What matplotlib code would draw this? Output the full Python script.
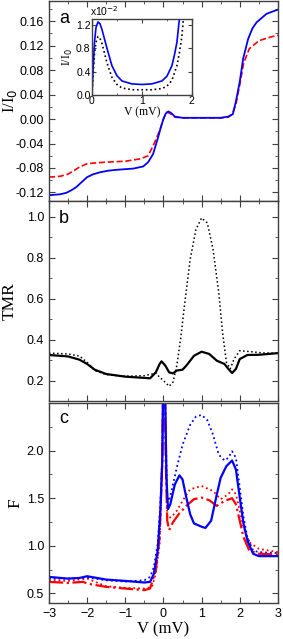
import matplotlib
matplotlib.use("Agg")
import matplotlib.pyplot as plt
from matplotlib.ticker import MultipleLocator

# Paneel a: I/I0
va_blue = [-3, -2.7, -2.54, -2.4, -2.28, -2.14, -2.0, -1.85, -1.66, -1.45, -1.23, -0.79, -0.53, -0.4, -0.27,
           -0.14, -0.07, 0.0, 0.06, 0.13, 0.2, 0.3, 0.5, 1.0, 1.5, 1.7, 1.82, 1.9, 2.0, 2.09, 2.22, 2.33, 2.44,
           2.7, 3.0]
ia_blue = [-0.1245, -0.123, -0.1205, -0.116, -0.111, -0.103, -0.095, -0.0905, -0.087, -0.0845, -0.083, -0.081,
           -0.0775, -0.0705, -0.057, -0.030, -0.014, 0.0, 0.009, 0.0125, 0.010, 0.004, 0.002, 0.002, 0.002,
           0.004, 0.008, 0.029, 0.061, 0.099, 0.131, 0.148, 0.158, 0.172, 0.179]
va_red = [-3, -2.7, -2.5, -2.35, -2.2, -2.0, -1.75, -1.5, -1.0, -0.6, -0.4, -0.25, -0.1, 0.0, 0.06, 0.1, 0.2,
          0.3, 0.5, 1.0, 1.5, 1.7, 1.8, 1.9, 2.0, 2.1, 2.25, 2.5, 2.8, 3.0]
ia_red = [-0.095, -0.0935, -0.090, -0.0845, -0.0785, -0.073, -0.0715, -0.0705, -0.069, -0.065, -0.060, -0.041,
          -0.019, 0.0, 0.009, 0.0115, 0.008, 0.003, 0.002, 0.002, 0.002, 0.003, 0.008, 0.024, 0.056, 0.091,
          0.115, 0.128, 0.134, 0.137]

# Inzet (eenheden 1e-2)
vin_blue = [0, 0.02, 0.05, 0.08, 0.12, 0.16, 0.2, 0.3, 0.4, 0.5, 0.6, 0.8, 1.0, 1.2, 1.4, 1.5, 1.6, 1.65, 1.7, 1.75]
iin_blue = [0, 0.4, 0.9, 1.15, 1.25, 1.22, 1.12, 0.8, 0.5, 0.33, 0.24, 0.19, 0.18, 0.19, 0.24, 0.32, 0.5, 0.68,
            0.9, 1.3]
vin_black = [0, 0.02, 0.05, 0.08, 0.12, 0.16, 0.2, 0.3, 0.4, 0.5, 0.6, 0.8, 1.0, 1.2, 1.4, 1.5, 1.6, 1.7, 1.75,
             1.8, 1.83]
iin_black = [0, 0.3, 0.7, 0.9, 1.0, 0.97, 0.88, 0.55, 0.3, 0.18, 0.12, 0.09, 0.09, 0.09, 0.11, 0.15, 0.25, 0.5,
             0.72, 1.0, 1.3]

# Paneel b: TMR
vb_solid = [-3, -2.5, -2.2, -2.0, -1.8, -1.5, -1.0, -0.5, -0.35, -0.2, -0.1, -0.05, 0.05, 0.15, 0.25, 0.35, 0.5,
            0.6, 0.8, 1.0, 1.2, 1.4, 1.6, 1.7, 1.8, 1.9, 2.0, 2.2, 2.5, 3.0]
tmr_solid = [0.325, 0.318, 0.302, 0.281, 0.253, 0.232, 0.219, 0.213, 0.211, 0.24, 0.281, 0.294, 0.273, 0.24,
             0.235, 0.249, 0.253, 0.273, 0.321, 0.341, 0.33, 0.297, 0.281, 0.257, 0.237, 0.257, 0.305, 0.325,
             0.326, 0.334]
vb_dot = [-3, -2.5, -2.2, -2.0, -1.8, -1.5, -1.0, -0.5, -0.3, -0.2, -0.1, 0.0, 0.15, 0.25, 0.35, 0.45, 0.55, 0.7,
          0.85, 1.0, 1.15, 1.3, 1.45, 1.55, 1.65, 1.75, 1.85, 2.0, 2.3, 2.6, 3.0]
tmr_dot = [0.334, 0.33, 0.32, 0.289, 0.249, 0.229, 0.221, 0.224, 0.232, 0.237, 0.216, 0.2, 0.172, 0.192, 0.273,
           0.403, 0.565, 0.792, 0.938, 0.995, 0.971, 0.841, 0.63, 0.435, 0.289, 0.257, 0.305, 0.346, 0.341,
           0.335, 0.334]

# Paneel c: Fano factor
vc_bs = [-3, -2.5, -2.2, -2.0, -1.8, -1.5, -1.0, -0.5, -0.35, -0.25, -0.15, -0.08, -0.03, 0.0, 0.03, 0.06, 0.08,
         0.12, 0.18, 0.3, 0.42, 0.5, 0.6, 0.7, 0.8, 1.0, 1.1, 1.25, 1.4, 1.5, 1.65, 1.8, 1.9, 2.0, 2.1, 2.2,
         2.35, 2.5, 3.0]
f_bs = [0.674, 0.656, 0.663, 0.681, 0.667, 0.646, 0.632, 0.615, 0.622, 0.708, 0.951, 1.368, 1.89, 3.0, 3.0, 2.2,
        1.715, 1.385, 1.437, 1.646, 1.74, 1.698, 1.507, 1.333, 1.236, 1.201, 1.188, 1.264, 1.542, 1.715, 1.837,
        1.896, 1.802, 1.507, 1.229, 1.056, 0.917, 0.892, 0.892]
vc_bd = [-3, -2.5, -2.0, -1.5, -1.0, -0.5, -0.35, -0.25, -0.15, -0.08, -0.03, 0.0, 0.03, 0.06, 0.1, 0.15, 0.25,
         0.35, 0.5, 0.7, 0.85, 1.0, 1.15, 1.3, 1.45, 1.6, 1.7, 1.8, 1.9, 2.0, 2.1, 2.2, 2.35, 2.5, 3.0]
f_bd = [0.656, 0.656, 0.667, 0.639, 0.625, 0.639, 0.674, 0.778, 1.021, 1.437, 1.95, 3.0, 3.0, 2.2, 1.507, 1.472,
        1.646, 1.82, 2.06, 2.27, 2.357, 2.375, 2.32, 2.167, 1.958, 1.896, 1.924, 1.993, 1.924, 1.611, 1.299,
        1.09, 0.951, 0.934, 0.924]
vc_rd = [-3, -2.5, -2.0, -1.5, -1.0, -0.5, -0.3, -0.2, -0.1, -0.03, 0.0, 0.03, 0.06, 0.1, 0.2, 0.35, 0.5, 0.7,
         1.0, 1.3, 1.5, 1.7, 1.8, 1.9, 2.0, 2.1, 2.25, 2.5, 3.0]
f_rd = [0.639, 0.632, 0.656, 0.576, 0.559, 0.552, 0.569, 0.708, 1.021, 1.9, 3.0, 3.0, 2.0, 1.299, 1.299, 1.368,
        1.472, 1.594, 1.629, 1.576, 1.49, 1.542, 1.594, 1.542, 1.368, 1.194, 1.038, 0.969, 0.934]
vc_rdd = [-3, -2.5, -2.1, -2.0, -1.5, -1.0, -0.5, -0.35, -0.2, -0.1, -0.03, 0.0, 0.03, 0.06, 0.1, 0.15, 0.25, 0.4,
          0.6, 0.8, 1.0, 1.2, 1.4, 1.6, 1.8, 1.9, 2.0, 2.1, 2.25, 2.5, 3.0]
f_rdd = [0.622, 0.611, 0.622, 0.604, 0.569, 0.552, 0.535, 0.552, 0.743, 1.09, 1.9, 3.0, 3.0, 1.9, 1.264, 1.167,
         1.247, 1.333, 1.42, 1.49, 1.507, 1.479, 1.42, 1.472, 1.5, 1.437, 1.264, 1.09, 0.951, 0.917, 0.91]

sans = "Liberation Sans"
serif = "Liberation Serif"
plt.rcParams["font.family"] = sans
plt.rcParams["font.size"] = 9
plt.rcParams["axes.edgecolor"] = "#404040"
plt.rcParams["axes.linewidth"] = 1.0

fig = plt.figure(figsize=(2.83, 6.39), dpi=100)
h = 200 / 639
axa = fig.add_axes([0.173, 1 - 201 / 639, 0.809, h])
axb = fig.add_axes([0.173, 1 - 401 / 639, 0.809, h])
axc = fig.add_axes([0.173, 1 - 603 / 639, 0.809, h])


def stijl(ax, major, minor):
    ax.set_xlim(-3, 3)
    ax.xaxis.set_major_locator(MultipleLocator(1))
    ax.xaxis.set_minor_locator(MultipleLocator(0.5))
    ax.yaxis.set_major_locator(MultipleLocator(major))
    ax.yaxis.set_minor_locator(MultipleLocator(minor))
    ax.tick_params(which="both", direction="in", top=True, right=True, color="#404040")
    ax.tick_params(which="major", length=4)
    ax.tick_params(which="minor", length=2.5)


# a
axa.plot(va_red, ia_red, "--", color="red", lw=1.2)
axa.plot(va_blue, ia_blue, "-", color="blue", lw=1.3)
stijl(axa, 0.04, 0.02)
axa.set_ylim(-0.134, 0.193)
axa.set_yticks([-0.12, -0.08, -0.04, 0.0, 0.04, 0.08, 0.12, 0.16])
axa.set_yticklabels(["-0.12", "-0.08", "-0.04", "0.00", "0.04", "0.08", "0.12", "0.16"])
axa.tick_params(labelbottom=False)
axa.set_ylabel("I/I$_0$", family=serif, fontsize=12)
axa.yaxis.set_label_coords(-0.13, 0.5)
axa.text(0.045, 0.955, "a", transform=axa.transAxes, fontsize=13, va="top")

# inzet
axi = fig.add_axes([0.325, 1 - 95 / 639, 0.353, 76 / 639])
axi.plot(vin_black, iin_black, ":", color="black", lw=1.2)
axi.plot(vin_blue, iin_blue, "-", color="blue", lw=1.2)
axi.set_xlim(0, 2)
axi.set_ylim(0, 1.3)
axi.set_xticks([0, 1, 2])
axi.set_yticks([0.0, 0.4, 0.8, 1.2])
axi.xaxis.set_minor_locator(MultipleLocator(0.5))
axi.tick_params(which="both", direction="in", top=True, right=True, labelsize=7.5, pad=1, color="#404040")
axi.tick_params(which="major", length=3)
axi.tick_params(which="minor", length=1.5)
axi.set_xlabel("V (mV)", family=serif, fontsize=8.5, labelpad=0)
axi.set_ylabel("I/I$_0$", family=serif, fontsize=8.5, labelpad=1)
axi.text(-0.02, 1.01, "x10$^{-2}$", transform=axi.transAxes, fontsize=7.5, va="bottom")

# b
axb.plot(vb_dot, tmr_dot, ":", color="black", lw=1.1)
axb.plot(vb_solid, tmr_solid, "-", color="black", lw=1.6)
stijl(axb, 0.2, 0.1)
axb.set_ylim(0.1, 1.078)
axb.tick_params(labelbottom=False)
axb.set_ylabel("TMR", family=serif, fontsize=12.5)
axb.yaxis.set_label_coords(-0.135, 0.5)
axb.text(0.045, 0.955, "b", transform=axb.transAxes, fontsize=13, va="top")

# c
axc.plot(vc_rd, f_rd, ":", color="red", lw=1.3)
axc.plot(vc_bd, f_bd, ":", color="blue", lw=1.3)
axc.plot(vc_rdd, f_rdd, "-.", color="red", lw=1.6)
axc.plot(vc_bs, f_bs, "-", color="blue", lw=1.6)
stijl(axc, 0.5, 0.25)
axc.set_ylim(0.4, 2.5)
axc.set_yticks([0.5, 1.0, 1.5, 2.0])
axc.set_ylabel("F", family=serif, fontsize=12.5)
axc.yaxis.set_label_coords(-0.11, 0.5)
axc.set_xlabel("V (mV)", family=serif, fontsize=12, labelpad=1)
axc.text(0.045, 0.965, "c", transform=axc.transAxes, fontsize=13, va="top")

fig.savefig("out.png", dpi=100)
